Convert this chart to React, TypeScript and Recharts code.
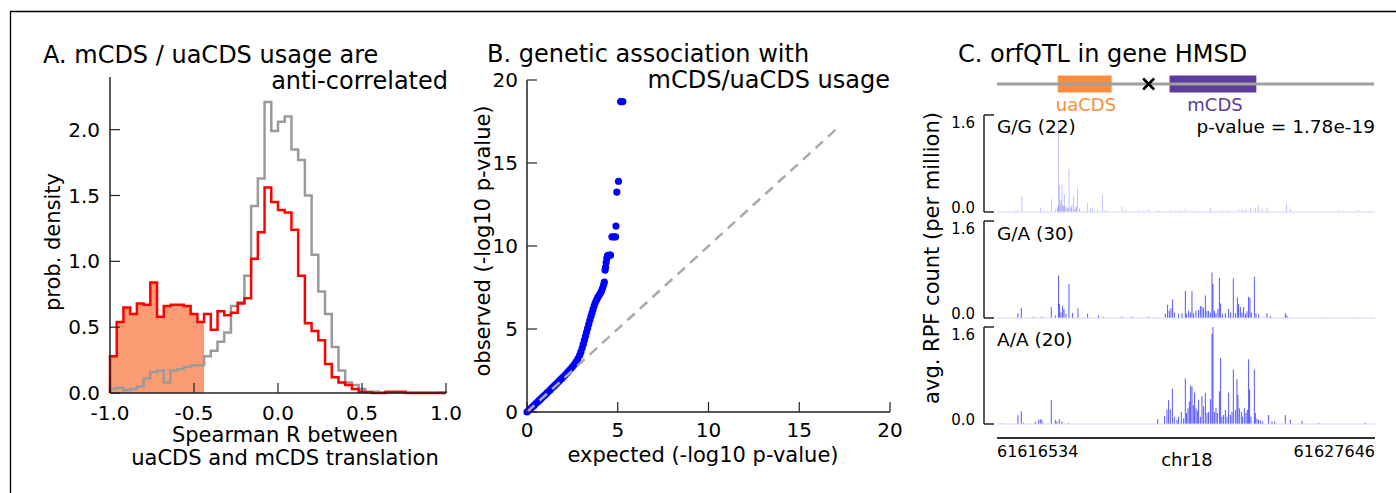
import React from 'react'
import {
  ComposedChart,
  ScatterChart,
  Scatter,
  Line,
  Area,
  Bar,
  XAxis,
  YAxis,
  ReferenceLine,
  ReferenceArea,
} from 'recharts'

const FONT = '"DejaVu Sans", sans-serif'
const AXIS = '#222'

// ---- A: Spearman R histogram, 50 bins of 0.04 from -1 to 1
const binStart = -1
const binWidth = 0.04
const sigDensity = [
  0.28, 0.54, 0.65, 0.6, 0.68, 0.67, 0.84, 0.58, 0.66, 0.67,
  0.67, 0.66, 0.6, 0.54, 0.6, 0.48, 0.62, 0.59, 0.61, 0.68,
  0.72, 1.02, 1.22, 1.56, 1.45, 1.39, 1.37, 1.24, 0.89, 0.53,
  0.47, 0.4, 0.22, 0.12, 0.08, 0.06, 0.03, 0.01, 0.005, 0,
  0, 0.01, 0.01, 0.01, 0, 0, 0, 0, 0, 0,
]
const allDensity = [
  0.03, 0.04, 0.02, 0.03, 0.05, 0.11, 0.16, 0.17, 0.08, 0.17,
  0.18, 0.2, 0.21, 0.21, 0.28, 0.32, 0.39, 0.46, 0.66, 0.69,
  0.89, 1.42, 1.63, 2.21, 1.99, 2.06, 2.1, 1.85, 1.77, 1.5,
  1.05, 0.77, 0.6, 0.35, 0.17, 0.08, 0.06, 0.03, 0.01, 0.01,
  0.004, 0.004, 0.004, 0.004, 0.004, 0.004, 0.004, 0.004, 0.004, 0.006,
]
const shadedBins = 14
const histTicksX = [-1, -0.5, 0, 0.5, 1]
const histTicksY = [0, 0.5, 1, 1.5, 2]

// ---- B: QQ plot (expected, observed)
const qqPoints = [
  [0.0, 0.0], [0.1, 0.1], [0.2, 0.2], [0.3, 0.31], [0.4, 0.41], [0.5, 0.52],
  [0.6, 0.62], [0.7, 0.73], [0.8, 0.83], [0.9, 0.94], [1.0, 1.04], [1.1, 1.15],
  [1.2, 1.25], [1.3, 1.36], [1.4, 1.47], [1.5, 1.57], [1.6, 1.68], [1.7, 1.79],
  [1.8, 1.9], [1.9, 2.01], [2.0, 2.12], [2.1, 2.23], [2.2, 2.35], [2.3, 2.47],
  [2.4, 2.59], [2.5, 2.72], [2.6, 2.86], [2.7, 3.02], [2.8, 3.2], [2.9, 3.42],
  [2.97, 3.62], [3.04, 3.85], [3.1, 4.08], [3.16, 4.32], [3.22, 4.56], [3.28, 4.8],
  [3.34, 5.04], [3.4, 5.28], [3.46, 5.52], [3.52, 5.75], [3.58, 5.97], [3.64, 6.18],
  [3.7, 6.4], [3.76, 6.58], [3.83, 6.75], [3.9, 6.9], [3.97, 7.03], [4.04, 7.15],
  [4.1, 7.28], [4.16, 7.45], [4.22, 7.65], [4.26, 7.82], [4.3, 8.55], [4.33, 8.72],
  [4.36, 9.0], [4.4, 9.25], [4.44, 9.42], [4.52, 9.45], [4.6, 9.45], [4.68, 10.55],
  [4.78, 10.55], [4.88, 10.55], [4.9, 11.2], [4.95, 13.25], [5.04, 13.9],
  [5.16, 18.7], [5.28, 18.7],
]
const diagonal = [0, 17]
const qqTicks = [0, 5, 10, 15, 20]

// ---- C: orfQTL tracks, positions are bp from 61616534
const regionStart = 61616534
const regionEnd = 61627646
const regionLen = regionEnd - regionStart
const uaCDS = [1793, 3381]
const mCDS = [5086, 7644]
const variantPos = [4469]
const trackTicks = [0, 1.6]

const ggTrack = [
  [559, 0.04], [735, 0.26], [1274, 0.07], [1597, 0.21], [1715, 0.05], [1774, 0.08],
  [1800, 0.1], [1813, 1.47], [1842, 0.44], [1860, 0.12], [1882, 0.2], [1911, 0.44],
  [1940, 0.12], [1950, 0.1], [1980, 0.29], [2000, 0.08], [2029, 0.1], [2068, 0.07],
  [2090, 0.06], [2117, 0.71], [2156, 0.09], [2180, 0.07], [2205, 0.12], [2254, 0.27],
  [2280, 0.05], [2303, 0.08], [2340, 0.1], [2372, 0.41], [2421, 0.06], [2666, 0.15],
  [2744, 0.08], [2813, 0.06], [2969, 0.05], [3107, 0.29], [3185, 0.03], [3675, 0.09],
  [3773, 0.04], [4165, 0.03], [4459, 0.04], [4753, 0.03], [5096, 0.03], [5390, 0.03],
  [5537, 0.04], [5733, 0.03], [6272, 0.06], [6615, 0.03], [6811, 0.03], [7105, 0.04],
  [7203, 0.05], [7301, 0.04], [7448, 0.06], [7595, 0.07], [7693, 0.11], [7791, 0.06],
  [7938, 0.08], [8506, 0.14], [8624, 0.05], [10045, 0.03], [10633, 0.03],
]
const gaTrack = [
  [617, 0.08], [715, 0.17], [1078, 0.02], [1323, 0.02], [1597, 0.18], [1715, 0.04],
  [1813, 0.7], [1842, 0.23], [1882, 0.09], [1931, 0.2], [1970, 0.15], [2029, 0.07],
  [2117, 0.56], [2225, 0.08], [2381, 0.16], [2666, 0.07], [2989, 0.04], [3136, 0.02],
  [3675, 0.02], [3969, 0.02], [4459, 0.02], [4753, 0.01], [4949, 0.07], [5018, 0.22],
  [5066, 0.12], [5116, 0.16], [5165, 0.31], [5214, 0.09], [5341, 0.07], [5439, 0.08],
  [5537, 0.45], [5576, 0.07], [5635, 0.12], [5684, 0.09], [5733, 0.44], [5782, 0.08],
  [5851, 0.12], [5929, 0.13], [5978, 0.2], [6027, 0.19], [6076, 0.16], [6125, 0.37],
  [6174, 0.12], [6223, 0.12], [6272, 0.09], [6321, 0.75], [6350, 0.56], [6390, 0.12],
  [6439, 0.08], [6497, 0.15], [6537, 0.66], [6576, 0.24], [6635, 0.07], [6713, 0.08],
  [6811, 0.15], [6870, 0.09], [6948, 0.65], [7007, 0.08], [7066, 0.34], [7105, 0.23],
  [7154, 0.18], [7203, 0.09], [7252, 0.18], [7301, 0.07], [7350, 0.11], [7399, 0.35],
  [7438, 0.33], [7477, 0.09], [7566, 0.68], [7615, 0.08], [7693, 0.06], [7938, 0.08],
  [8036, 0.03], [8477, 0.08], [8526, 0.04], [9653, 0.01], [10633, 0.01],
]
const aaTrack = [
  [98, 0.01], [617, 0.15], [715, 0.21], [784, 0.02], [1127, 0.04], [1225, 0.07],
  [1274, 0.08], [1323, 0.07], [1597, 0.39], [1715, 0.07], [1764, 0.04], [1833, 0.08],
  [1911, 0.04], [2107, 0.02], [4724, 0.08], [4929, 0.13], [4998, 0.24], [5047, 0.39],
  [5096, 0.24], [5155, 0.58], [5214, 0.12], [5292, 0.07], [5341, 0.12], [5419, 0.2],
  [5488, 0.09], [5537, 0.75], [5576, 0.18], [5615, 0.26], [5655, 0.37], [5694, 0.63],
  [5733, 0.62], [5772, 0.31], [5811, 0.52], [5851, 0.26], [5890, 0.22], [5929, 0.4],
  [5978, 0.12], [6027, 0.46], [6076, 0.29], [6125, 0.51], [6174, 0.18], [6223, 0.2],
  [6272, 0.41], [6321, 1.49], [6350, 1.6], [6390, 0.2], [6439, 0.27], [6478, 0.18],
  [6537, 0.54], [6576, 1.09], [6615, 0.12], [6664, 0.15], [6713, 0.23], [6762, 0.12],
  [6811, 0.52], [6860, 0.15], [6909, 0.2], [6948, 0.9], [7007, 0.23], [7056, 0.74],
  [7085, 0.48], [7125, 0.26], [7183, 0.2], [7223, 0.12], [7272, 0.26], [7321, 0.18],
  [7360, 0.23], [7399, 1.07], [7429, 0.57], [7468, 0.12], [7566, 0.9], [7595, 0.18],
  [7644, 0.09], [7693, 0.07], [7742, 0.06], [7811, 0.04], [7987, 0.15], [8085, 0.04],
  [8163, 0.04], [8477, 0.15], [8624, 0.07], [8967, 0.05], [9457, 0.02], [10829, 0.02],
]

// build the step table for panel A
const histData: any[] = [{ x: binStart, red: 0, gray: 0, fill: 0 }]
sigDensity.forEach((v, i) => {
  histData.push({
    x: +(binStart + i * binWidth).toFixed(2),
    red: v,
    gray: allDensity[i],
    fill: i < shadedBins ? v : i === shadedBins ? 0 : null,
  })
})
histData.push({ x: 1, red: sigDensity[49], gray: allDensity[49], fill: null })
histData.push({ x: 1, red: 0, gray: 0, fill: null })

const qqData = qqPoints.map(([e, o]) => ({ e, o }))
const diagData = diagonal.map((v) => ({ e: v, o: v }))

// ticks drawn inward, matplotlib style
const bottomTick = (fmt: (v: number) => string, offset: number) => (props: any) => {
  const { x, y, payload } = props
  return (
    <g>
      <line x1={x} x2={x} y1={y} y2={y - 10} stroke={AXIS} strokeWidth={1.2} />
      <text x={x} y={y + offset} textAnchor="middle" fontSize={20} fontFamily={FONT} fill="#000">
        {fmt(payload.value)}
      </text>
    </g>
  )
}

const leftTick = (fmt: (v: number) => string, gap: number) => (props: any) => {
  const { x, y, payload } = props
  return (
    <g>
      <line x1={x} x2={x + 10} y1={y} y2={y} stroke={AXIS} strokeWidth={1.2} />
      <text x={x - gap} y={y + 7} textAnchor="end" fontSize={20} fontFamily={FONT} fill="#000">
        {fmt(payload.value)}
      </text>
    </g>
  )
}

const trackTick = (props: any) => {
  const { x, y, payload } = props
  const top = payload.value > 0
  return (
    <g>
      <line x1={x} x2={x + 10} y1={y} y2={y} stroke={AXIS} strokeWidth={1.5} />
      <text x={x - 9} y={top ? y + 13 : y + 1} textAnchor="end" fontSize={15} fontFamily={FONT} fill="#000">
        {payload.value.toFixed(1)}
      </text>
    </g>
  )
}

const chrTick = (props: any) => {
  const { x, y, payload } = props
  const first = payload.value === 0
  return (
    <text x={x} y={y + 19} textAnchor={first ? 'start' : 'end'} fontSize={16} fontFamily={FONT} fill="#000">
      {first ? regionStart : regionEnd}
    </text>
  )
}

function HistPanel() {
  return (
    <ComposedChart width={470} height={420} data={histData} margin={{ top: 37, right: 24, bottom: 7, left: 0 }}>
      <XAxis
        dataKey="x"
        type="number"
        domain={[-1, 1]}
        ticks={histTicksX}
        interval={0}
        height={60}
        tickSize={0}
        tickMargin={0}
        tickLine={false}
        axisLine={{ stroke: AXIS, strokeWidth: 1.5 }}
        tick={bottomTick((v) => v.toFixed(1), 27)}
      />
      <YAxis
        type="number"
        domain={[0, 2.4]}
        ticks={histTicksY}
        interval={0}
        width={110}
        tickSize={0}
        tickMargin={0}
        tickLine={false}
        axisLine={{ stroke: AXIS, strokeWidth: 1.5 }}
        tick={leftTick((v) => v.toFixed(1), 10)}
      />
      <Line dataKey="gray" type="stepAfter" stroke="#9a9a9a" strokeWidth={2.5} dot={false} activeDot={false} isAnimationActive={false} />
      <Line dataKey="red" type="stepAfter" stroke="#ff0000" strokeWidth={2.5} dot={false} activeDot={false} isAnimationActive={false} />
      <Area dataKey="fill" type="stepAfter" stroke="none" fill="#F75816" fillOpacity={0.6} isAnimationActive={false} activeDot={false} />
    </ComposedChart>
  )
}

function QQPanel() {
  return (
    <ScatterChart width={440} height={420} margin={{ top: 40, right: 20, bottom: 8, left: 0 }}>
      <XAxis
        dataKey="e"
        type="number"
        domain={[0, 20]}
        ticks={qqTicks}
        interval={0}
        height={40}
        tickSize={0}
        tickMargin={0}
        tickLine={false}
        axisLine={{ stroke: AXIS, strokeWidth: 1.5 }}
        tick={bottomTick((v) => String(v), 25)}
      />
      <YAxis
        dataKey="o"
        type="number"
        domain={[0, 20]}
        ticks={qqTicks}
        interval={0}
        width={57}
        tickSize={0}
        tickMargin={0}
        tickLine={false}
        axisLine={{ stroke: AXIS, strokeWidth: 1.5 }}
        tick={leftTick((v) => String(v), 9)}
      />
      <Scatter
        data={qqData}
        isAnimationActive={false}
        shape={(p: any) => <circle cx={p.cx} cy={p.cy} r={3.6} fill="#0000ff" />}
      />
      {/* dashed y = x guide, drawn over the points */}
      <Scatter
        data={diagData}
        isAnimationActive={false}
        line={{ stroke: '#aaaaaa', strokeWidth: 2.5, strokeDasharray: '10 7' }}
        shape={() => <g />}
      />
    </ScatterChart>
  )
}

function Track({ data }: { data: number[][] }) {
  const rows = data.map(([pos, v]) => ({ pos, v }))
  return (
    <ComposedChart width={440} height={117} data={rows} margin={{ top: 10, right: 5, bottom: 10, left: 0 }}>
      <XAxis dataKey="pos" type="number" domain={[-382, regionLen]} hide />
      <YAxis
        type="number"
        domain={[0, 1.6]}
        ticks={trackTicks}
        interval={0}
        width={44}
        tickSize={0}
        tickMargin={0}
        tickLine={false}
        axisLine={{ stroke: AXIS, strokeWidth: 1.5 }}
        tick={trackTick}
      />
      <ReferenceLine
        segment={[{ x: 0, y: 0 }, { x: regionLen, y: 0 }]}
        stroke="#d4d4ff"
        strokeWidth={1}
      />
      <Bar dataKey="v" barSize={1.2} fill="#0000ff" fillOpacity={0.75} isAnimationActive={false} />
    </ComposedChart>
  )
}

function GeneModel() {
  const variant = variantPos.map((pos) => ({ pos, y: 0 }))
  return (
    <ComposedChart width={400} height={40} margin={{ top: 0, right: 16, bottom: 0, left: 7 }}>
      <XAxis dataKey="pos" type="number" domain={[0, regionLen]} hide />
      <YAxis dataKey="y" type="number" domain={[-1, 1]} hide />
      <ReferenceLine segment={[{ x: 0, y: 0 }, { x: regionLen, y: 0 }]} stroke="#a0a0a0" strokeWidth={3} />
      <ReferenceArea x1={uaCDS[0]} x2={uaCDS[1]} y1={-0.425} y2={0.425} fill="#FD8D3C" fillOpacity={1} stroke="none" />
      <ReferenceArea x1={mCDS[0]} x2={mCDS[1]} y1={-0.425} y2={0.425} fill="#5E3C99" fillOpacity={1} stroke="none" />
      <Scatter
        data={variant}
        isAnimationActive={false}
        shape={(p: any) => (
          <path
            d={`M${p.cx - 5.5} ${p.cy - 5.5} L${p.cx + 5.5} ${p.cy + 5.5} M${p.cx + 5.5} ${p.cy - 5.5} L${p.cx - 5.5} ${p.cy + 5.5}`}
            stroke="#000"
            strokeWidth={2.5}
          />
        )}
      />
    </ComposedChart>
  )
}

function ChrAxis() {
  const ends = [0, regionLen].map((pos) => ({ pos }))
  return (
    <ComposedChart width={456} height={45} data={ends} margin={{ top: 0, right: 21, bottom: 7, left: 57 }}>
      <XAxis
        dataKey="pos"
        type="number"
        domain={[0, regionLen]}
        ticks={[0, regionLen]}
        interval={0}
        height={30}
        tickSize={0}
        tickMargin={0}
        tickLine={false}
        axisLine={{ stroke: '#333', strokeWidth: 2 }}
        tick={chrTick}
      />
      <YAxis hide />
    </ComposedChart>
  )
}

const T = (p: any) => <text fontFamily={FONT} fill="#000" {...p} />

export default function App() {
  const abs = (left: number, top: number): React.CSSProperties => ({ position: 'absolute', left, top })
  return (
    <div style={{ position: 'absolute', left: 0, top: 0, width: 1396, height: 493, background: '#fff', overflow: 'hidden' }}>
      <div style={abs(0, 40)}><HistPanel /></div>
      <div style={abs(470, 40)}><QQPanel /></div>
      <div style={abs(990, 64)}><GeneModel /></div>
      <div style={abs(940, 105)}><Track data={ggTrack} /></div>
      <div style={abs(940, 211)}><Track data={gaTrack} /></div>
      <div style={abs(940, 317)}><Track data={aaTrack} /></div>
      <div style={abs(940, 430)}><ChrAxis /></div>

      <svg width={1396} height={493} style={{ position: 'absolute', left: 0, top: 0, pointerEvents: 'none' }}>
        <line x1={10} y1={11.5} x2={1396} y2={11.5} stroke="#000" strokeWidth={1.3} />
        <line x1={10.5} y1={11} x2={10.5} y2={493} stroke="#000" strokeWidth={1.3} />

        <T x={43} y={63} fontSize={24}>A. mCDS / uaCDS usage are</T>
        <T x={448} y={89} fontSize={24} textAnchor="end">anti-correlated</T>
        <T x={0} y={0} fontSize={21} textAnchor="middle" transform="translate(60,242) rotate(-90)">prob. density</T>
        <T x={285} y={442} fontSize={21} textAnchor="middle">Spearman R between</T>
        <T x={285} y={465} fontSize={21} textAnchor="middle">uaCDS and mCDS translation</T>

        <T x={487} y={62} fontSize={24}>B. genetic association with</T>
        <T x={890} y={88} fontSize={24} textAnchor="end">mCDS/uaCDS usage</T>
        <T x={0} y={0} fontSize={21} textAnchor="middle" transform="translate(490,241) rotate(-90)">observed (-log10 p-value)</T>
        <T x={703} y={462} fontSize={21} textAnchor="middle">expected (-log10 p-value)</T>

        <T x={958} y={62} fontSize={24}>C. orfQTL in gene HMSD</T>
        <T x={1086} y={111} fontSize={18} textAnchor="middle" fill="#FD8D3C">uaCDS</T>
        <T x={1215} y={111} fontSize={18} textAnchor="middle" fill="#5E3C99">mCDS</T>
        <T x={0} y={0} fontSize={21} textAnchor="middle" transform="translate(939,258) rotate(-90)">avg. RPF count (per million)</T>
        <T x={997} y={133} fontSize={18.5}>G/G (22)</T>
        <T x={1375} y={133} fontSize={18.5} textAnchor="end">p-value = 1.78e-19</T>
        <T x={997} y={240} fontSize={18.5}>G/A (30)</T>
        <T x={997} y={346} fontSize={18.5}>A/A (20)</T>
        <T x={1187} y={466} fontSize={18} textAnchor="middle">chr18</T>
      </svg>
    </div>
  )
}
